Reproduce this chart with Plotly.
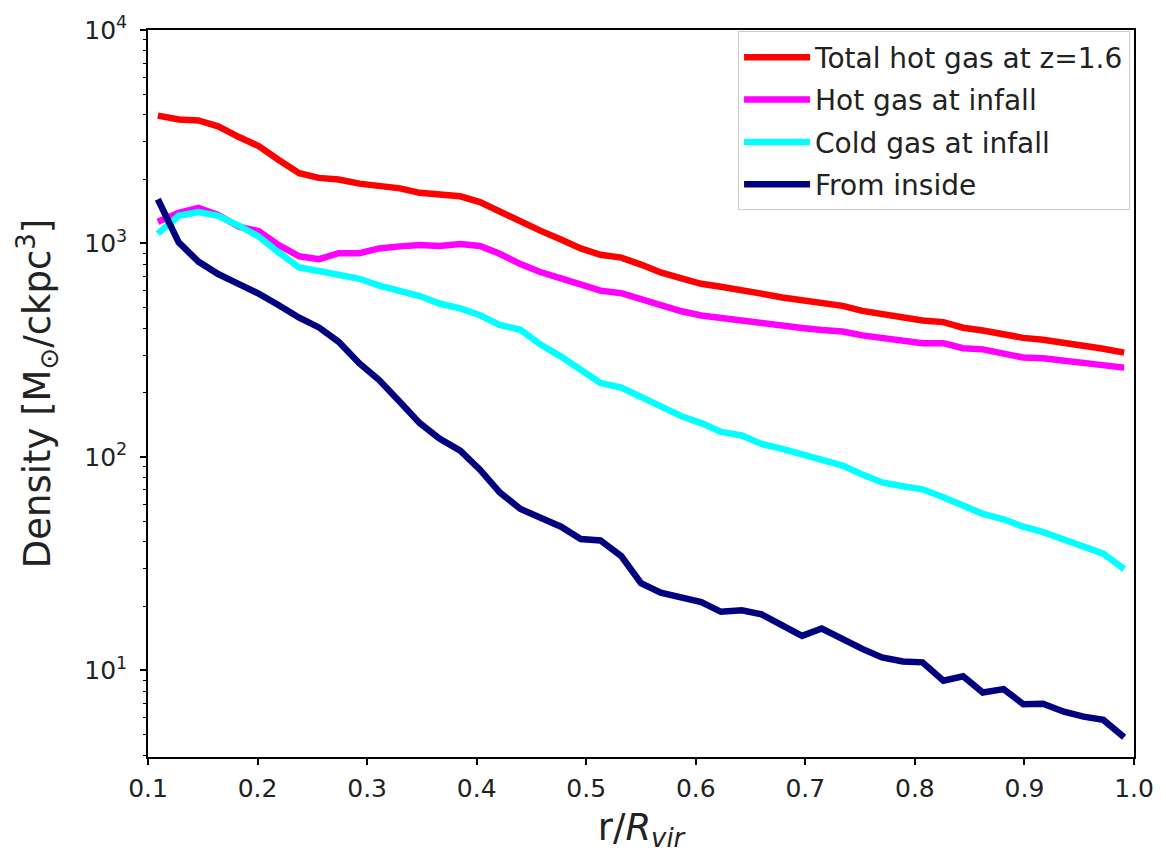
import plotly.graph_objects as go
import numpy as np

r = [0.109, 0.128, 0.146, 0.164, 0.183, 0.201, 0.219, 0.238, 0.256, 0.274,
     0.293, 0.311, 0.330, 0.348, 0.366, 0.385, 0.403, 0.421, 0.440, 0.458,
     0.477, 0.495, 0.513, 0.532, 0.550, 0.568, 0.587, 0.605, 0.623, 0.642,
     0.660, 0.679, 0.697, 0.715, 0.734, 0.752, 0.770, 0.789, 0.807, 0.826,
     0.844, 0.862, 0.881, 0.899, 0.917, 0.936, 0.954, 0.972, 0.991]

total_hot = [3970, 3808, 3767, 3535, 3150, 2860, 2466, 2135, 2028, 1993,
             1906, 1864, 1811, 1726, 1681, 1663, 1562, 1404, 1276, 1148,
             1043, 948, 885, 858, 796, 731, 686, 647, 627, 607,
             582, 558, 541, 527, 510, 483, 466, 446, 436, 428,
             403, 391, 375, 361, 354, 344, 334, 321, 308]

hot_infall = [1263, 1390, 1466, 1360, 1197, 1142, 984, 871, 844, 900,
              900, 948, 969, 984, 974, 994, 974, 895, 800, 735,
              686, 647, 601, 585, 549, 513, 481, 460, 447, 437,
              424, 412, 402, 393, 387, 371, 361, 348, 341, 341,
              323, 319, 305, 292, 290, 283, 277, 270, 262]

cold_infall = [1112, 1346, 1403, 1346, 1211, 1077, 910, 771, 743, 714,
               683, 634, 595, 567, 523, 496, 461, 415, 394, 337,
               295, 255, 222, 211, 191, 174, 155, 144, 131, 126,
               115, 109, 103, 96.9, 91, 82.7, 75.9, 72.8, 70.5, 64.7,
               59.1, 54.1, 51.0, 47.1, 44.4, 41.0, 38.1, 35.2, 29.8]

from_inside = [1611, 1011, 822, 719, 645, 582, 515, 449, 404, 346,
               274, 229, 181, 144, 122, 107, 87.1, 68.2, 57.0, 51.7,
               47.1, 41.2, 40.6, 34.3, 25.6, 23.1, 21.9, 20.9, 18.8, 19.1,
               18.3, 16.3, 14.5, 15.7, 14.0, 12.6, 11.5, 11.0, 10.9, 8.95,
               9.38, 7.87, 8.17, 6.93, 6.97, 6.40, 6.07, 5.86, 4.86]

series_names = ["Total hot gas at z=1.6", "Hot gas at infall",
                "Cold gas at infall", "From inside"]
series_values = [total_hot, hot_infall, cold_infall, from_inside]
series_colors = ["#ff0000", "#ff00ff", "#00ffff", "#000080"]

x_ticks = [0.1, 0.2, 0.3, 0.4, 0.5, 0.6, 0.7, 0.8, 0.9, 1.0]
x_ticklabels = ["0.1", "0.2", "0.3", "0.4", "0.5", "0.6", "0.7", "0.8", "0.9", "1.0"]
y_ticks = [10, 100, 1000, 10000]
y_ticklabels = ["10<sup>1</sup>", "10<sup>2</sup>", "10<sup>3</sup>", "10<sup>4</sup>"]

FONT = "DejaVu Sans, Liberation Sans, sans-serif"
TXT = "#222222"

fig = go.Figure()
for i, (name, vals, col) in enumerate(zip(series_names, series_values, series_colors)):
    fig.add_trace(go.Scatter(x=r, y=vals, mode="lines", name=name,
                             line=dict(color=col, width=6.5),
                             legendgroup=f"g{i}"))

minor_vals = [m * 10 ** d for d in range(0, 4) for m in range(2, 10)]

fig.update_layout(
    width=1166, height=857,
    margin=dict(l=148, r=24, t=18, b=100),
    paper_bgcolor="white", plot_bgcolor="white",
    font=dict(family=FONT, size=25, color=TXT),
    showlegend=True,
    legend=dict(x=0.996, y=0.998, xanchor="right", yanchor="top",
                bgcolor="rgba(255,255,255,0.8)", bordercolor="#cccccc",
                borderwidth=1, font=dict(size=28, color=TXT),
                traceorder="grouped", tracegroupgap=3, itemwidth=66),
    xaxis=dict(range=[0.1, 1.0], tickvals=x_ticks, ticktext=x_ticklabels,
               showgrid=False, zeroline=False, showline=True, linecolor="black",
               linewidth=1.5, mirror=True, ticks="outside", ticklen=6, tickwidth=1.5,
               tickcolor="black", tickfont=dict(size=25, color=TXT),
               ticklabelstandoff=2,
               title=dict(text="r/<i>R<sub>vir</sub></i>", font=dict(size=37, color=TXT),
                          standoff=12)),
    yaxis=dict(type="log", range=[0.594, 4.0], tickvals=y_ticks, ticktext=y_ticklabels,
               showgrid=False, zeroline=False, showline=True, linecolor="black",
               linewidth=1.5, mirror=True, ticks="outside", ticklen=6, tickwidth=1.5,
               tickcolor="black", tickfont=dict(size=25, color=TXT),
               ticklabelstandoff=8,
               minor=dict(tickvals=minor_vals, ticks="outside", ticklen=3.5,
                          tickwidth=1, tickcolor="black", showgrid=False),
               title=dict(text="Density [M<sub>⊙</sub>/ckpc<sup>3</sup>]",
                          font=dict(size=37, color=TXT), standoff=22)),
)

fig.write_html("out.html")
